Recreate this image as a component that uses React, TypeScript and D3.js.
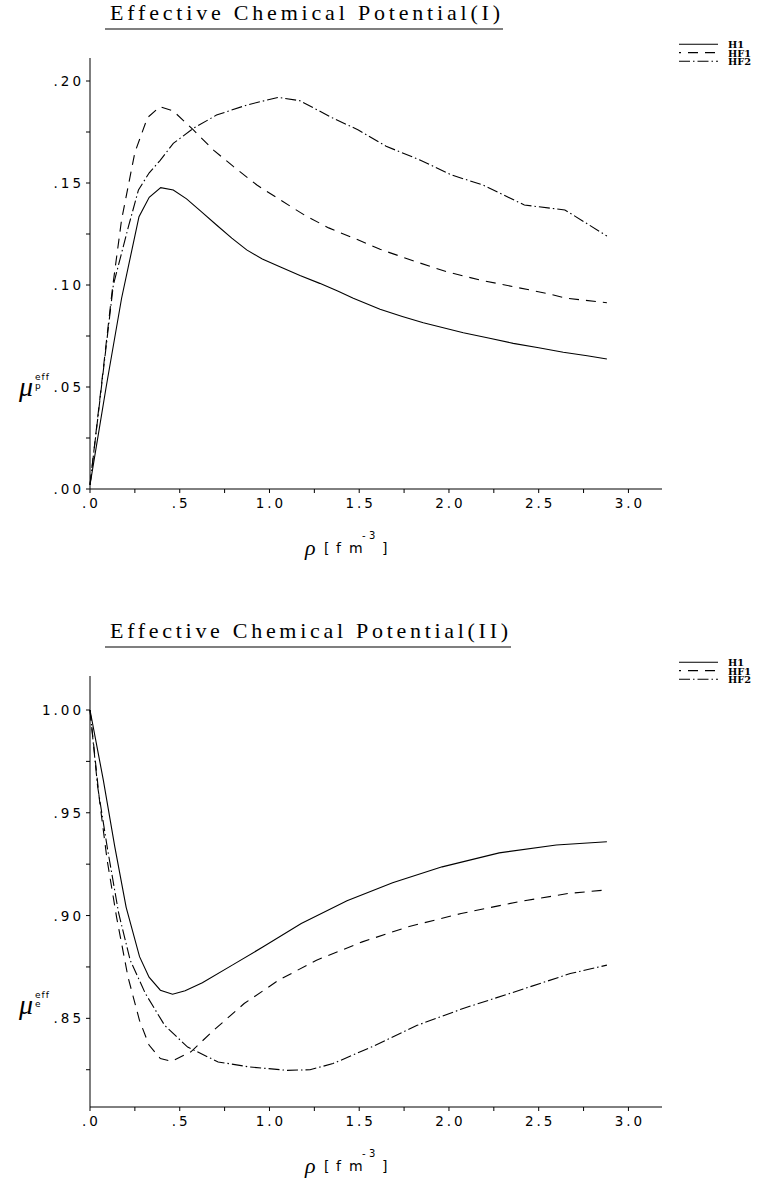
import React from "react";
import * as d3 from "d3";

// ---- Panel I: effective proton chemical potential ----
const rhoH1I = [0, 0.09, 0.176, 0.273, 0.33, 0.394, 0.464, 0.538, 0.62, 0.705, 0.79, 0.873, 0.96, 1.058, 1.17, 1.28, 1.38, 1.467, 1.616, 1.74, 1.857, 2.08, 2.22, 2.358, 2.5, 2.637, 2.77, 2.88];
const muH1I = [0.002, 0.05, 0.0935, 0.1335, 0.143, 0.1477, 0.1466, 0.1422, 0.136, 0.1294, 0.123, 0.1172, 0.1127, 0.109, 0.1047, 0.1008, 0.097, 0.0935, 0.0881, 0.0846, 0.0815, 0.0766, 0.074, 0.0714, 0.0692, 0.067, 0.0653, 0.0637];

const rhoHF1I = [0, 0.126, 0.176, 0.25, 0.32, 0.39, 0.464, 0.576, 0.69, 0.8, 0.93, 1.06, 1.2, 1.33, 1.486, 1.616, 1.8, 1.987, 2.17, 2.358, 2.544, 2.656, 2.88];
const muHF1I = [0.002, 0.099, 0.132, 0.165, 0.182, 0.1874, 0.1853, 0.176, 0.166, 0.158, 0.149, 0.1417, 0.134, 0.128, 0.1224, 0.1175, 0.1119, 0.1065, 0.1025, 0.0992, 0.0959, 0.0935, 0.0913];

const rhoHF2I = [0, 0.13, 0.214, 0.27, 0.33, 0.39, 0.464, 0.576, 0.705, 0.873, 1.049, 1.17, 1.355, 1.495, 1.65, 1.838, 2.015, 2.19, 2.42, 2.646, 2.88];
const muHF2I = [0.002, 0.1, 0.1286, 0.1466, 0.155, 0.161, 0.1694, 0.1768, 0.1833, 0.1882, 0.192, 0.1903, 0.1817, 0.176, 0.168, 0.1613, 0.1539, 0.149, 0.1392, 0.1368, 0.124];

// ---- Panel II: effective electron chemical potential ----
const rhoH1II = [0, 0.074, 0.138, 0.2015, 0.276, 0.329, 0.392, 0.46, 0.53, 0.626, 0.795, 0.965, 1.177, 1.432, 1.686, 1.962, 2.28, 2.598, 2.88];
const muH1II = [1.0, 0.966, 0.9335, 0.904, 0.88, 0.87, 0.8637, 0.8617, 0.8634, 0.8673, 0.876, 0.8848, 0.8961, 0.9072, 0.916, 0.9237, 0.9305, 0.9343, 0.9359];

const rhoHF1II = [0, 0.053, 0.0955, 0.1485, 0.212, 0.2757, 0.329, 0.392, 0.456, 0.562, 0.689, 0.859, 1.05, 1.262, 1.517, 1.771, 2.068, 2.386, 2.662, 2.88];
const muHF1II = [1.0, 0.956, 0.927, 0.899, 0.87, 0.849, 0.837, 0.8304, 0.8291, 0.8337, 0.8442, 0.8572, 0.8685, 0.8783, 0.8872, 0.8945, 0.901, 0.9067, 0.9107, 0.9125];

const rhoHF2II = [0, 0.0426, 0.0955, 0.16, 0.224, 0.309, 0.416, 0.544, 0.714, 0.885, 1.098, 1.226, 1.354, 1.567, 1.823, 2.079, 2.335, 2.676, 2.88];
const muHF2II = [1.0, 0.9627, 0.9335, 0.901, 0.8783, 0.862, 0.8466, 0.836, 0.8288, 0.8264, 0.8247, 0.825, 0.828, 0.836, 0.8466, 0.8548, 0.862, 0.8718, 0.8759];

// ---- Axes ----
const xMajor = [0, 0.5, 1.0, 1.5, 2.0, 2.5, 3.0];
const xLabels = [".0", ".5", "1.0", "1.5", "2.0", "2.5", "3.0"];
const xMinor = [0.25, 0.75, 1.25, 1.75, 2.25, 2.75];

const yMajorI = [0, 0.05, 0.1, 0.15, 0.2];
const yLabelsI = [".00", ".05", ".10", ".15", ".20"];
const yMinorI = [0.025, 0.075, 0.125, 0.175];

const yMajorII = [0.85, 0.9, 0.95, 1.0];
const yLabelsII = [".85", ".90", ".95", "1.00"];
const yMinorII = [0.825, 0.875, 0.925, 0.975];

const seriesNames = ["H1", "HF1", "HF2"];

const DASHES = [null, "10 7", "11 3 1.5 3"];

const TICK_FONT = "'DejaVu Sans', sans-serif";
const TICK_SIZE = 13.5;
const TICK_LS = 3;

type Series = { name: string; rho: number[]; mu: number[]; dash: string | null };

type PanelProps = {
  top: number;
  title: string;
  titleLen: number;
  yDomain: [number, number];
  yMajor: number[];
  yLabels: string[];
  yMinor: number[];
  series: Series[];
  sub: string;
};

function Panel({ top, title, titleLen, yDomain, yMajor, yLabels, yMinor, series, sub }: PanelProps) {
  const x = d3.scaleLinear().domain([0, 3.187]).range([90, 662]);
  const y = d3.scaleLinear().domain(yDomain).range([489, 58]);
  const line = d3
    .line<[number, number]>()
    .x((d) => x(d[0]))
    .y((d) => y(d[1]));

  const legendLineY = [44.3, 52.6, 61.2];
  const legendTextY = [48.3, 56.7, 65.0];

  return (
    <g transform={`translate(0,${top})`}>
      {/* title with underline */}
      <text
        x={110}
        y={20}
        textLength={titleLen}
        lengthAdjust="spacing"
        fontFamily="'Liberation Serif', serif"
        fontSize={22}
        fill="#000"
      >
        {title}
      </text>
      <line x1={105} x2={110 + titleLen + 3} y1={29} y2={29} stroke="#000" strokeWidth={1.2} />

      {/* axes */}
      <line x1={x.range()[0]} x2={x.range()[1]} y1={489} y2={489} stroke="#000" strokeWidth={1} />
      <line x1={90} x2={90} y1={58} y2={489} stroke="#000" strokeWidth={1} />

      {xMajor.concat(xMinor).map((v, i) => (
        <line key={`xt${i}`} x1={x(v)} x2={x(v)} y1={489} y2={493} stroke="#000" strokeWidth={1} />
      ))}
      {xMajor.map((v, i) => (
        <text
          key={`xl${i}`}
          x={x(v) + TICK_LS / 2}
          y={508}
          textAnchor="middle"
          fontFamily={TICK_FONT}
          fontSize={TICK_SIZE}
          letterSpacing={TICK_LS}
          fill="#000"
        >
          {xLabels[i]}
        </text>
      ))}

      {yMajor.concat(yMinor).map((v, i) => (
        <line key={`yt${i}`} x1={86} x2={90} y1={y(v)} y2={y(v)} stroke="#000" strokeWidth={1} />
      ))}
      {yMajor.map((v, i) => (
        <text
          key={`yl${i}`}
          x={84}
          y={y(v) + 5}
          textAnchor="end"
          fontFamily={TICK_FONT}
          fontSize={TICK_SIZE}
          letterSpacing={TICK_LS}
          fill="#000"
        >
          {yLabels[i]}
        </text>
      ))}

      {/* curves */}
      {series.map((s) => (
        <path
          key={s.name}
          d={line(s.rho.map((r, i) => [r, s.mu[i]] as [number, number])) || ""}
          fill="none"
          stroke="#000"
          strokeWidth={1.1}
          strokeDasharray={s.dash || undefined}
        />
      ))}

      {/* legend: line samples and a stacked label block */}
      {series.map((s, i) => (
        <line
          key={`lg${i}`}
          x1={679}
          x2={718}
          y1={legendLineY[i]}
          y2={legendLineY[i]}
          stroke="#000"
          strokeWidth={1.1}
          strokeDasharray={s.dash || undefined}
          strokeDashoffset={s.dash === DASHES[1] ? 8 : 0}
        />
      ))}
      <text fontFamily="'DejaVu Serif', serif" fontWeight="bold" fontSize={9.8} fill="#000">
        {series.map((s, i) => (
          <tspan key={`lt${i}`} x={728} y={legendTextY[i]}>
            {s.name}
          </tspan>
        ))}
      </text>

      {/* x-axis title: rho [fm^-3] */}
      <text y={555} fill="#000">
        <tspan x={305} fontFamily="'Liberation Serif', serif" fontStyle="italic" fontSize={22}>
          ρ
        </tspan>
      </text>
      <text y={553} fill="#000" fontFamily="'DejaVu Sans', sans-serif" fontSize={14}>
        <tspan x={324}>[</tspan>
        <tspan x={336}>f</tspan>
        <tspan x={349}>m</tspan>
        <tspan x={382}>]</tspan>
      </text>
      <text y={539} fill="#000" fontFamily="'DejaVu Sans', sans-serif" fontSize={10}>
        <tspan x={362}>-</tspan>
        <tspan x={369}>3</tspan>
      </text>

      {/* y-axis title: mu^eff_sub */}
      <text x={19} y={396} fill="#000" fontFamily="'Liberation Serif', serif" fontStyle="italic" fontSize={28}>
        μ
      </text>
      <text x={35} y={380} fill="#000" fontFamily="'DejaVu Sans', sans-serif" fontSize={9} letterSpacing={1}>
        eff
      </text>
      <text x={35} y={389} fill="#000" fontFamily="'DejaVu Sans', sans-serif" fontSize={9}>
        {sub}
      </text>
    </g>
  );
}

export default function App() {
  const panelI: Series[] = [
    { name: seriesNames[0], rho: rhoH1I, mu: muH1I, dash: DASHES[0] },
    { name: seriesNames[1], rho: rhoHF1I, mu: muHF1I, dash: DASHES[1] },
    { name: seriesNames[2], rho: rhoHF2I, mu: muHF2I, dash: DASHES[2] },
  ];
  const panelII: Series[] = [
    { name: seriesNames[0], rho: rhoH1II, mu: muH1II, dash: DASHES[0] },
    { name: seriesNames[1], rho: rhoHF1II, mu: muHF1II, dash: DASHES[1] },
    { name: seriesNames[2], rho: rhoHF2II, mu: muHF2II, dash: DASHES[2] },
  ];
  const spanI = (489 - 58) / 2040;
  const domII: [number, number] = [1 - (489 - 92) / 2055.6, 1 + (92 - 58) / 2055.6];

  return (
    <svg
      width={763}
      height={1184}
      style={{ position: "absolute", left: 0, top: 0, background: "#fff" }}
    >
      <rect x={0} y={0} width={763} height={1184} fill="#fff" />
      <Panel
        top={0}
        title="Effective Chemical Potential(I)"
        titleLen={390}
        yDomain={[0, spanI]}
        yMajor={yMajorI}
        yLabels={yLabelsI}
        yMinor={yMinorI}
        series={panelI}
        sub="p"
      />
      <Panel
        top={618}
        title="Effective Chemical Potential(II)"
        titleLen={398}
        yDomain={domII}
        yMajor={yMajorII}
        yLabels={yLabelsII}
        yMinor={yMinorII}
        series={panelII}
        sub="e"
      />
    </svg>
  );
}
